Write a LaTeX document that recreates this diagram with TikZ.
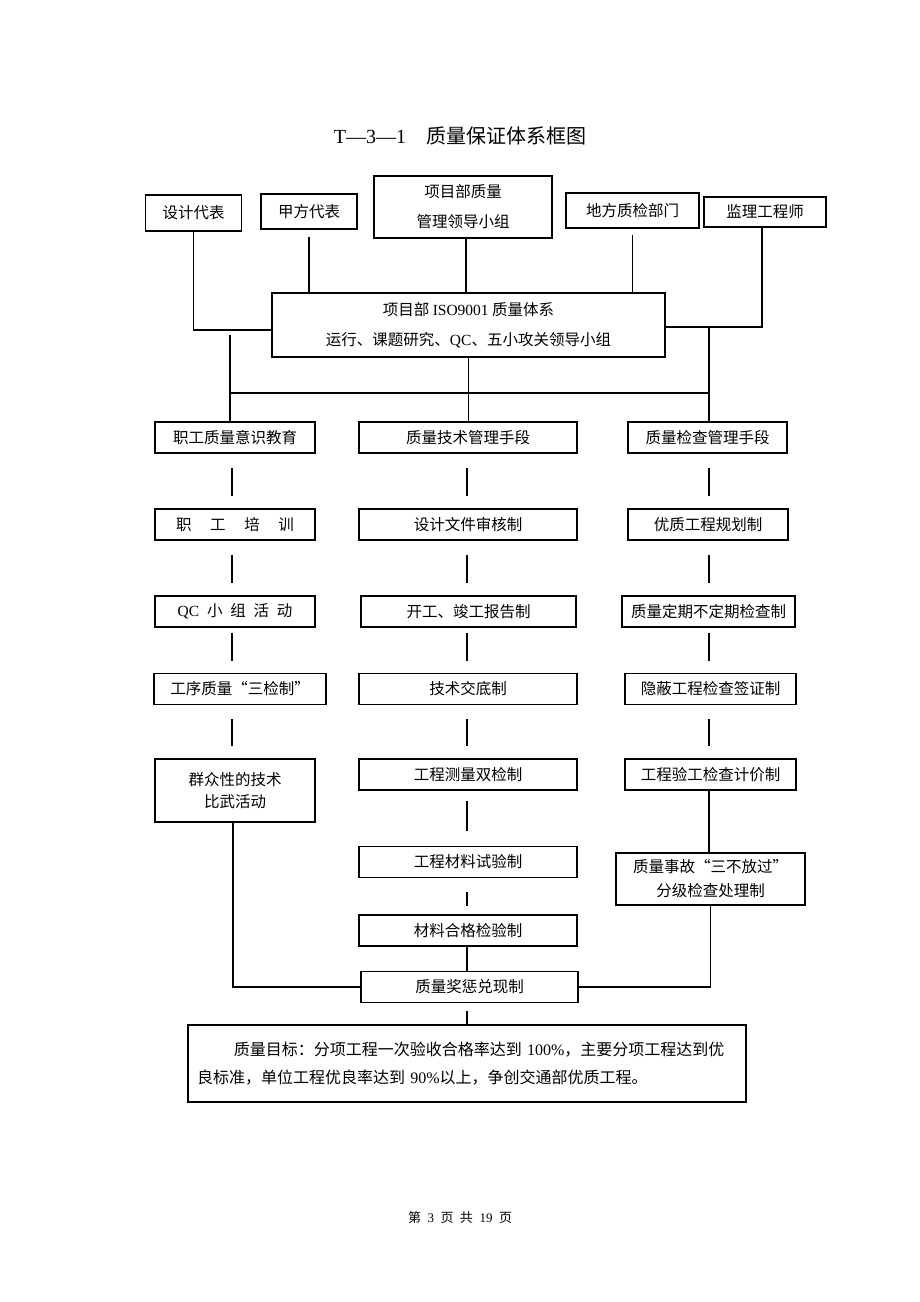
\documentclass[tikz,border=0pt]{standalone}
\usepackage{fontspec}
\setmainfont{Liberation Serif}
\newfontfamily\cjk{Noto Sans CJK SC}
\usepackage{tikz}

\newcommand{\lat}[1]{{\rmfamily #1}}
\tikzset{
  box/.style={draw, line width=1.1pt, inner sep=0pt, align=center,
    font=\cjk\fontsize{15.5}{30}\selectfont},
  link/.style={line width=1.1pt},
  gap/.style={link, shorten <=14pt, shorten >=12pt},
  shortgap/.style={link, shorten <=5pt, shorten >=12pt},
}

\begin{document}
\begin{tikzpicture}[x=1pt,y=-1pt]
\useasboundingbox[fill=white] (0,0) rectangle (920,1302);
% title and footer
\node[font=\fontsize{20}{24}\selectfont] (title) at (460,136) {T—3—1\quad{\cjk 质量保证体系框图}};
\node[font=\cjk\fontsize{13}{15}\selectfont] (foot) at (460,1218) {第\hspace{0.5em}\lat{3}\hspace{0.5em}页\hspace{0.5em}共\hspace{0.5em}\lat{19}\hspace{0.5em}页};
% top row
\node[box, minimum width=96, minimum height=36] (sj) at (193.5,213) {设计代表};
\node[box, minimum width=96, minimum height=35] (jf) at (309,211.5) {甲方代表};
\node[box, minimum width=178, minimum height=62] (xm) at (463,207) {项目部质量\\管理领导小组};
\node[box, minimum width=133, minimum height=35] (df) at (632.5,210.5) {地方质检部门};
\node[box, minimum width=122, minimum height=30] (jl) at (765,212) {监理工程师};
\node[box, minimum width=393, minimum height=64] (iso) at (468.5,325)
  {项目部 \lat{ISO9001} 质量体系\\运行、课题研究、\lat{QC}、五小攻关领导小组};
% left column
\node[box, minimum width=160, minimum height=31] (k1) at (235,437.5) {职工质量意识教育};
\node[box, minimum width=160, minimum height=31] (k2) at (235,524.5) {职\hspace{1.2em}工\hspace{1.2em}培\hspace{1.2em}训};
\node[box, minimum width=160, minimum height=31] (k3) at (235,611.5) {\lat{QC}\hspace{0.5em}小\hspace{0.5em}组\hspace{0.5em}活\hspace{0.5em}动};
\node[box, minimum width=172, minimum height=31] (k4) at (240,689) {工序质量“三检制”};
\node[box, minimum width=160, minimum height=63, font=\cjk\fontsize{15.5}{22}\selectfont] (k5) at (235,790.5) {群众性的技术\\比武活动};
% middle column
\node[box, minimum width=218, minimum height=31] (j1) at (468,437.5) {质量技术管理手段};
\node[box, minimum width=218, minimum height=31] (j2) at (468,524.5) {设计文件审核制};
\node[box, minimum width=215, minimum height=31] (j3) at (468.5,611.5) {开工、竣工报告制};
\node[box, minimum width=218, minimum height=31] (j4) at (468,689) {技术交底制};
\node[box, minimum width=218, minimum height=31] (j5) at (468,774.5) {工程测量双检制};
\node[box, minimum width=218, minimum height=31] (j6) at (468,862) {工程材料试验制};
\node[box, minimum width=218, minimum height=31] (j7) at (468,930.5) {材料合格检验制};
\node[box, minimum width=217, minimum height=31] (j8) at (469.5,987) {质量奖惩兑现制};
% right column
\node[box, minimum width=159, minimum height=31] (q1) at (707.5,437.5) {质量检查管理手段};
\node[box, minimum width=160, minimum height=31] (q2) at (708,524.5) {优质工程规划制};
\node[box, minimum width=173, minimum height=31] (q3) at (708.5,611.5) {质量定期不定期检查制};
\node[box, minimum width=171, minimum height=31] (q4) at (710.5,689) {隐蔽工程检查签证制};
\node[box, minimum width=171, minimum height=31] (q5) at (710.5,774.5) {工程验工检查计价制};
\node[box, minimum width=189, minimum height=52, font=\cjk\fontsize{15.5}{24}\selectfont] (q6) at (710.5,879) {质量事故“三不放过”\\分级检查处理制};
% goal
\node[box, minimum width=558, minimum height=77, text width=540, align=left, font=\cjk\fontsize{16}{28}\selectfont] (goal) at (467,1063.5)
  {\hspace*{2.3em}质量目标：分项工程一次验收合格率达到 \lat{100\%}，主要分项工程达到优\\
   良标准，单位工程优良率达到 \lat{90\%}以上，争创交通部优质工程。};
% connectors at the top
\draw[link] (sj.south) |- ([yshift=-5pt]iso.west);
\draw[link] ([yshift=-7pt]jf.south) -- (jf.south |- iso.north);
\draw[link] ([xshift=3pt]xm.south) -- ([xshift=3pt]xm.south |- iso.north);
\draw[link] ([yshift=-6pt]df.south) -- (df.south |- iso.north);
\draw[link] ([xshift=-3pt]jl.south) |- ([yshift=-2pt]iso.east);
\coordinate (busL) at (230,393);
\coordinate (busR) at (709,393);
\coordinate (busT) at (230,335);
\coordinate (busRT) at (709,327);
\draw[link] (busL) -- (busR);
\draw[link] (busT) -- (busT |- k1.north);
\draw[link] (iso.south) -- (iso.south |- j1.north);
\draw[link] (busRT) -- (busRT |- q1.north);
% columns
\coordinate (c1) at (232,0);
\coordinate (c2) at (467,0);
\coordinate (c3) at (709,0);
\foreach \a/\b/\s in {k1/k2/gap,k2/k3/gap,k3/k4/shortgap,k4/k5/gap}
  \draw[\s] (\a.south -| c1) -- (\b.north -| c1);
\foreach \a/\b/\s in {j1/j2/gap,j2/j3/gap,j3/j4/shortgap,j4/j5/gap}
  \draw[\s] (\a.south -| c2) -- (\b.north -| c2);
\draw[link, shorten <=10pt, shorten >=15pt] (j5.south -| c2) -- (j6.north -| c2);
\draw[link, shorten <=14pt, shorten >=8pt] (j6.south -| c2) -- (j7.north -| c2);
\draw[link] (j7.south -| c2) -- (j8.north -| c2);
\foreach \a/\b/\s in {q1/q2/gap,q2/q3/gap,q3/q4/shortgap,q4/q5/gap}
  \draw[\s] (\a.south -| c3) -- (\b.north -| c3);
\draw[link] (q5.south -| c3) -- (q6.north -| c3);
% bottom
\draw[link] ([xshift=-2pt]k5.south) |- (j8.west);
\draw[link] (q6.south) |- (j8.east);
\draw[link, shorten <=8pt] (j8.south -| c2) -- (goal.north -| c2);
\end{tikzpicture}
\end{document}
